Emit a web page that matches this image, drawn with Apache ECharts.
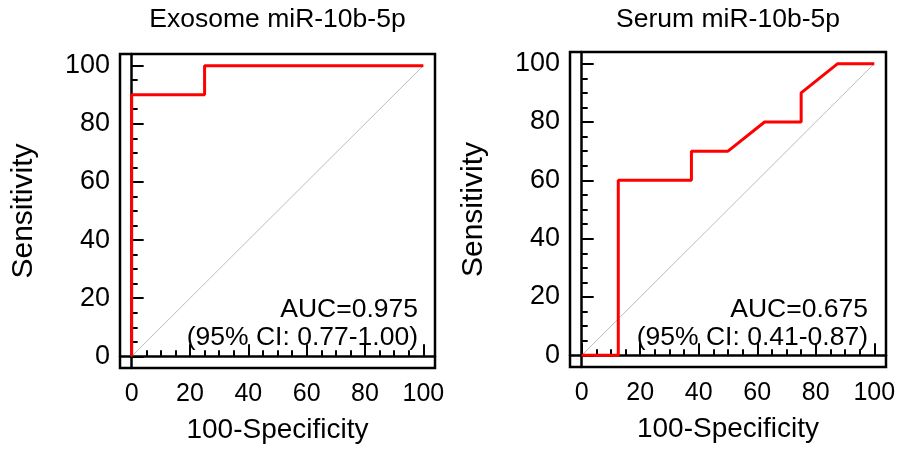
<!DOCTYPE html>
<html>
<head>
<meta charset="utf-8">
<script src="https://cdn.jsdelivr.net/npm/echarts@6/dist/echarts.min.js"></script>
<style>
html, body { margin: 0; padding: 0; background: #fff; }
#chart { width: 902px; height: 457px; }
</style>
</head>
<body>
<div id="chart"></div>
<script>
// data
var majorTicks = [0, 20, 40, 60, 80, 100];
var minorTicks = [5, 10, 15, 25, 30, 35, 45, 50, 55, 65, 70, 75, 85, 90, 95];
var panelTitles = ['Exosome miR-10b-5p', 'Serum miR-10b-5p'];
var aucText = ['AUC=0.975', 'AUC=0.675'];
var ciText = ['(95% CI: 0.77-1.00)', '(95% CI: 0.41-0.87)'];
var exosomeRoc = [[0, 0], [0, 90], [25, 90], [25, 100], [100, 100]];
var serumRoc = [[0, 0], [12.5, 0], [12.5, 60], [37.5, 60], [37.5, 70], [50, 70], [62.5, 80], [75, 80], [75, 90], [87.5, 100], [100, 100]];
var chanceLine = [[0, 0], [100, 100]];

var FONT = "'Liberation Sans', Arial, sans-serif";
var rocs = [exosomeRoc, serumRoc];

// pixel boxes of the two panels
var boxes = [
    {left: 120, top: 54, width: 315, height: 314},
    {left: 570, top: 52, width: 316, height: 315}
];

var grids = [], xAxes = [], yAxes = [], series = [], graphics = [];

function axisBase(min, max) {
    return {
        type: 'value',
        min: min,
        max: max,
        splitLine: {show: false}
    };
}

boxes.forEach(function (b, i) {
    grids.push({
        left: b.left, top: b.top, width: b.width, height: b.height,
        show: true, borderColor: '#000', borderWidth: 2.5, backgroundColor: 'transparent'
    });

    // major x axis
    var xm = axisBase(-4, 104);
    xm.gridIndex = i;
    xm.position = 'bottom';
    xm.name = '100-Specificity';
    xm.nameLocation = 'middle';
    xm.nameGap = 48;
    xm.nameTextStyle = {fontFamily: FONT, fontSize: 28, color: '#000'};
    xm.axisLine = {show: true, lineStyle: {color: '#000', width: 2.5}};
    xm.axisTick = {show: true, inside: true, length: 12, customValues: majorTicks, lineStyle: {color: '#000', width: 2}};
    xm.axisLabel = {show: true, margin: 14, customValues: majorTicks, fontFamily: FONT, fontSize: 25, color: '#000'};
    xAxes.push(xm);

    // minor x ticks
    var xn = axisBase(-4, 104);
    xn.gridIndex = i;
    xn.position = 'bottom';
    xn.axisLine = {show: false};
    xn.axisTick = {show: true, inside: true, length: 6, customValues: minorTicks, lineStyle: {color: '#000', width: 2}};
    xn.axisLabel = {show: false};
    xAxes.push(xn);

    // major y axis
    var ym = axisBase(-4, 104);
    ym.gridIndex = i;
    ym.position = 'left';
    ym.name = 'Sensitivity';
    ym.nameLocation = 'middle';
    ym.nameGap = 81;
    ym.nameTextStyle = {fontFamily: FONT, fontSize: 30, color: '#000'};
    ym.axisLine = {show: true, lineStyle: {color: '#000', width: 2.5}};
    ym.axisTick = {show: true, inside: true, length: 12, customValues: majorTicks, lineStyle: {color: '#000', width: 2}};
    ym.axisLabel = {show: true, margin: 10, customValues: majorTicks, fontFamily: FONT, fontSize: 27, color: '#000'};
    yAxes.push(ym);

    // minor y ticks
    var yn = axisBase(-4, 104);
    yn.gridIndex = i;
    yn.position = 'left';
    yn.axisLine = {show: false};
    yn.axisTick = {show: true, inside: true, length: 6, customValues: minorTicks, lineStyle: {color: '#000', width: 2}};
    yn.axisLabel = {show: false};
    yAxes.push(yn);

    series.push({
        type: 'line',
        xAxisIndex: i * 2, yAxisIndex: i * 2,
        data: chanceLine,
        symbol: 'none',
        silent: true,
        z: 1,
        lineStyle: {color: '#bdbdbd', width: 1}
    });
    series.push({
        type: 'line',
        xAxisIndex: i * 2, yAxisIndex: i * 2,
        data: rocs[i],
        symbol: 'none',
        clip: false,
        z: 3,
        lineStyle: {color: '#ff0000', width: 3}
    });

    graphics.push({
        type: 'text',
        x: b.left + b.width / 2, y: 20,
        style: {text: panelTitles[i], font: '26.5px ' + FONT, fill: '#000', align: 'center', verticalAlign: 'middle'}
    });
    graphics.push({
        type: 'text',
        x: b.left + 298, y: 310,
        style: {text: aucText[i], font: '26.5px ' + FONT, fill: '#000', align: 'right', verticalAlign: 'middle'}
    });
    graphics.push({
        type: 'text',
        x: b.left + 298, y: 338,
        style: {text: ciText[i], font: '26.5px ' + FONT, fill: '#000', align: 'right', verticalAlign: 'middle'}
    });
});

var chart = echarts.init(document.getElementById('chart'));
chart.setOption({
    animation: false,
    backgroundColor: '#fff',
    grid: grids,
    xAxis: xAxes,
    yAxis: yAxes,
    series: series,
    graphic: graphics
});
</script>
</body>
</html>
